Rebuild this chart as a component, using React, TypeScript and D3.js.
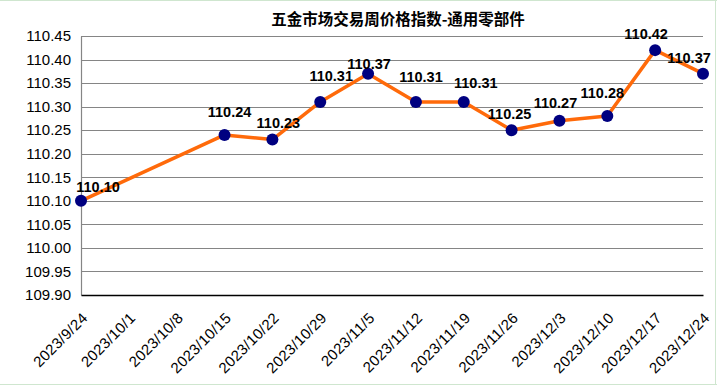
import React, { useEffect, useRef } from 'react';
import * as d3 from 'd3';

// weekly dates (category axis)
const dates = [
  '2023/9/24', '2023/10/1', '2023/10/8', '2023/10/15', '2023/10/22', '2023/10/29', '2023/11/5',
  '2023/11/12', '2023/11/19', '2023/11/26', '2023/12/3', '2023/12/10', '2023/12/17', '2023/12/24',
];
// index values, null = no data that week
const values: (number | null)[] = [
  110.10, null, null, 110.24, 110.23, 110.31, 110.37,
  110.31, 110.31, 110.25, 110.27, 110.28, 110.42, 110.37,
];
const yTicks = [109.90, 109.95, 110.00, 110.05, 110.10, 110.15, 110.20, 110.25, 110.30, 110.35, 110.40, 110.45];

const title = '五金市场交易周价格指数-通用零部件';

// label nudges (Excel auto placement), [dx, dy] from the point
const labelNudge: [number, number][] = [
  [17, -9], [0, 0], [0, 0], [5, -18], [6, -12], [11, -21], [1, -5],
  [5, -20], [12, -14], [-2, -11], [-4, -13], [-5, -18], [-9, -11], [-14, -11],
];

const W = 717;
const H = 385;

const App = () => {
  const svgRef = useRef<SVGSVGElement>(null);

  useEffect(() => {
    const svg = d3.select(svgRef.current);
    svg.selectAll('*').remove();

    const margin = { top: 36, right: 14, bottom: 90, left: 81 };
    const plotW = W - margin.left - margin.right;
    const plotH = H - margin.top - margin.bottom;

    // background + sheet grid lines
    svg.append('rect').attr('width', W).attr('height', H).attr('fill', '#fff');
    const sheet = svg.append('g').attr('stroke', '#cfe6cf').attr('stroke-width', 1);
    sheet.append('line').attr('x1', 0).attr('x2', W).attr('y1', 0.5).attr('y2', 0.5);
    sheet.append('line').attr('x1', 0).attr('x2', W).attr('y1', 384.5).attr('y2', 384.5);
    sheet.append('line').attr('x1', 715.5).attr('x2', 715.5).attr('y1', 0).attr('y2', H);

    const x = d3.scalePoint<string>().domain(dates).range([0, plotW]);
    const y = d3.scaleLinear().domain([109.90, 110.45]).range([plotH, 0]);

    const g = svg.append('g').attr('transform', `translate(${margin.left},${margin.top})`);

    // gridlines
    g.selectAll('.grid')
      .data(yTicks.slice(1))
      .enter()
      .append('line')
      .attr('x1', 0)
      .attr('x2', plotW)
      .attr('y1', d => Math.round(y(d)) + 0.5)
      .attr('y2', d => Math.round(y(d)) + 0.5)
      .attr('stroke', '#858585')
      .attr('stroke-width', 1.2);

    // y axis
    const yAxis = d3.axisLeft(y).tickValues(yTicks).tickSize(0).tickPadding(10).tickFormat(d3.format('.2f'));
    const ya = g.append('g').call(yAxis);
    ya.select('.domain').attr('stroke', '#858585').attr('stroke-width', 1.2);
    ya.selectAll('text')
      .style('font-family', 'Arial, "Liberation Sans", sans-serif')
      .style('font-size', '15px')
      .attr('fill', '#000');

    // x axis
    const xAxis = d3.axisBottom(x).tickSize(0).tickPadding(0);
    const xa = g.append('g').attr('transform', `translate(0,${plotH})`).call(xAxis);
    xa.select('.domain').attr('stroke', '#000').attr('stroke-width', 1.5);
    xa.selectAll('text')
      .style('font-family', 'Arial, "Liberation Sans", sans-serif')
      .style('font-size', '15px')
      .style('letter-spacing', '0.3px')
      .attr('fill', '#000')
      .attr('dy', 0)
      .attr('text-anchor', 'end')
      .attr('transform', 'translate(7,24) rotate(-45)');

    const pts = dates
      .map((d, i) => ({ date: d, value: values[i], i }))
      .filter(p => p.value !== null) as { date: string; value: number; i: number }[];

    // line (gaps bridged)
    const line = d3.line<{ date: string; value: number }>()
      .x(d => x(d.date)!)
      .y(d => y(d.value));
    g.append('path')
      .datum(pts)
      .attr('d', line)
      .attr('fill', 'none')
      .attr('stroke', '#ff6a0a')
      .attr('stroke-width', 3.5)
      .attr('stroke-linejoin', 'round');

    // markers
    g.selectAll('.pt')
      .data(pts)
      .enter()
      .append('circle')
      .attr('cx', d => x(d.date)!)
      .attr('cy', d => y(d.value))
      .attr('r', 6)
      .attr('fill', '#000080');

    // data labels
    g.selectAll('.lbl')
      .data(pts)
      .enter()
      .append('text')
      .attr('x', d => x(d.date)! + labelNudge[d.i][0])
      .attr('y', d => y(d.value) + labelNudge[d.i][1])
      .attr('text-anchor', 'middle')
      .style('font-family', 'Arial, "Liberation Sans", sans-serif')
      .style('font-size', '14.5px')
      .style('font-weight', 'bold')
      .attr('fill', '#000')
      .text(d => d.value.toFixed(2));

    // title
    svg.append('text')
      .attr('x', 398)
      .attr('y', 25)
      .attr('text-anchor', 'middle')
      .style('font-family', '"Noto Sans CJK SC", sans-serif')
      .style('font-size', '15.5px')
      .style('font-weight', 'bold')
      .attr('fill', '#000')
      .text(title);
  }, []);

  return (
    <svg
      ref={svgRef}
      width={W}
      height={H}
      style={{ position: 'absolute', left: 0, top: 0, display: 'block' }}
    />
  );
};

export default App;
